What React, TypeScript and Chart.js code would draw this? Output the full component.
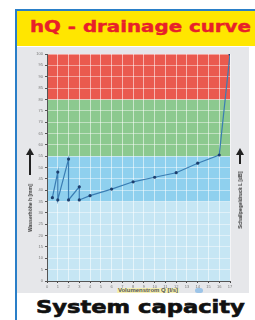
import React, { useEffect, useRef } from "react";
import { Chart, registerables } from "chart.js";

Chart.register(...registerables);

const xValues = [0.5, 1, 1, 2, 2, 3, 3, 4, 6, 8, 10, 12, 14, 16, 17];
const yValues = [36.7, 48, 35.7, 53.7, 35.7, 41.5, 35.7, 37.6, 40.5, 43.7, 45.7, 47.7, 51.9, 55.5, 100];
const bandFrom = [0, 35, 55, 80];
const bandTo = [35, 55, 80, 100];
const bandColors = ["#c6e6f4", "#8fd0ee", "#8cc98f", "#ea5a4e"];
const titleText = "hQ - drainage curve";
const footerText = "System capacity";
const yTitle = "Wasserhöhe h [mm]";
const rightTitle = "Schallpegeldruck L [dB]";
const xTitle = "Volumenstrom Q [l/s]";

const bandsPlugin = {
  id: "bands",
  beforeDraw(chart: any) {
    const { ctx, chartArea, scales } = chart;
    ctx.save();
    for (let i = 0; i < bandFrom.length; i++) {
      const y1 = scales.y.getPixelForValue(bandTo[i]);
      const y2 = scales.y.getPixelForValue(bandFrom[i]);
      ctx.fillStyle = bandColors[i];
      ctx.fillRect(chartArea.left, y1, chartArea.right - chartArea.left, y2 - y1);
    }
    ctx.restore();
  },
};

function Arrow({ left, top, len }: { left: number; top: number; len: number }) {
  return (
    <div style={{ position: "absolute", left, top, width: 8, height: len }}>
      <div
        style={{
          position: "absolute",
          left: 0,
          top: 0,
          width: 0,
          height: 0,
          borderLeft: "4px solid transparent",
          borderRight: "4px solid transparent",
          borderBottom: "7px solid #222",
        }}
      />
      <div style={{ position: "absolute", left: 3, top: 6, width: 2, height: len - 6, background: "#222" }} />
    </div>
  );
}

export default function App() {
  const ref = useRef<HTMLCanvasElement>(null);
  useEffect(() => {
    document.body.style.margin = "0";
    const chart = new Chart(ref.current as HTMLCanvasElement, {
      type: "line",
      data: {
        datasets: [
          {
            data: xValues.map((x, i) => ({ x, y: yValues[i] })),
            borderColor: "#3a7db3",
            borderWidth: 1.2,
            pointRadius: 1.6,
            pointBackgroundColor: "#1d3f6e",
            pointBorderColor: "#1d3f6e",
            pointBorderWidth: 0,
            tension: 0,
          },
        ],
      },
      options: {
        animation: false,
        responsive: false,
        devicePixelRatio: 1,
        layout: { padding: { top: 8, right: 20, bottom: 2, left: 0 } },
        plugins: { legend: { display: false }, tooltip: { enabled: false } },
        scales: {
          x: {
            type: "linear",
            min: 0,
            max: 17,
            ticks: { stepSize: 1, font: { size: 4 }, color: "#777", padding: 1, maxRotation: 0 },
            grid: { color: "rgba(255,255,255,0.55)", tickColor: "#444", tickLength: 2, lineWidth: 1 },
            border: { color: "#555", width: 1 },
            afterFit: (s: any) => {
              s.height = 10;
            },
          },
          y: {
            min: 0,
            max: 100,
            ticks: { stepSize: 5, font: { size: 4 }, color: "#777", padding: 2 },
            grid: { color: "rgba(255,255,255,0.45)", tickColor: "#555", tickLength: 2, lineWidth: 1 },
            border: { color: "#555", width: 1 },
            afterFit: (s: any) => {
              s.width = 30;
            },
          },
        },
      },
      plugins: [bandsPlugin],
    });
    return () => chart.destroy();
  }, []);

  return (
    <div style={{ position: "relative", width: 255, height: 320, background: "#fff", overflow: "hidden" }}>
      <div style={{ position: "absolute", left: 15, top: 9, width: 240, height: 1.5, background: "#2a7fc8" }} />
      <div style={{ position: "absolute", left: 15, top: 9, width: 1.5, height: 311, background: "#2a7fc8" }} />
      <div style={{ position: "absolute", left: 17, top: 11, width: 238, height: 35, background: "#ffe600" }} />
      <div
        style={{
          position: "absolute",
          left: 30,
          top: 18,
          fontFamily: "'DejaVu Sans'",
          fontWeight: 900,
          fontSize: 15,
          color: "#e8202a",
          whiteSpace: "nowrap",
          transform: "scaleX(1.32)",
          transformOrigin: "left top",
          WebkitTextStroke: "0.4px #e8202a",
        }}
      >
        {titleText}
      </div>
      <div style={{ position: "absolute", left: 17, top: 47, width: 232, height: 246, background: "#e6e7ea", overflow: "hidden" }}>
        <div
          style={{
            position: "absolute",
            left: 100,
            top: 241,
            width: 62,
            height: 6,
            background: "#f3eeb0",
          }}
        />
        <div
          style={{
            position: "absolute",
            left: 131,
            top: 240,
            transform: "translateX(-50%)",
            fontFamily: "'Liberation Sans'",
            fontWeight: "bold",
            fontSize: 6,
            color: "#555",
            whiteSpace: "nowrap",
          }}
        >
          {xTitle}
        </div>
        <div style={{ position: "absolute", left: 178, top: 241, width: 8, height: 5, borderRadius: 3, background: "#9cc4e8" }} />
      </div>
      <canvas ref={ref} width={233} height={247} style={{ position: "absolute", left: 17, top: 46 }} />
      <Arrow left={26} top={148} len={27} />
      <Arrow left={236} top={148} len={16} />
      <div
        style={{
          position: "absolute",
          left: 30,
          top: 208,
          transform: "translate(-50%, -50%) rotate(-90deg)",
          fontFamily: "'Liberation Sans'",
          fontWeight: "bold",
          fontSize: 5,
          color: "#333",
          whiteSpace: "nowrap",
        }}
      >
        {yTitle}
      </div>
      <div
        style={{
          position: "absolute",
          left: 240,
          top: 200,
          transform: "translate(-50%, -50%) rotate(-90deg)",
          fontFamily: "'Liberation Sans'",
          fontWeight: "bold",
          fontSize: 5,
          color: "#333",
          whiteSpace: "nowrap",
        }}
      >
        {rightTitle}
      </div>
      <div
        style={{
          position: "absolute",
          left: 36,
          top: 297,
          fontFamily: "'DejaVu Sans'",
          fontWeight: 900,
          fontSize: 17,
          color: "#111",
          whiteSpace: "nowrap",
          transform: "scaleX(1.33)",
          transformOrigin: "left top",
          WebkitTextStroke: "0.6px #111",
        }}
      >
        {footerText}
      </div>
    </div>
  );
}
